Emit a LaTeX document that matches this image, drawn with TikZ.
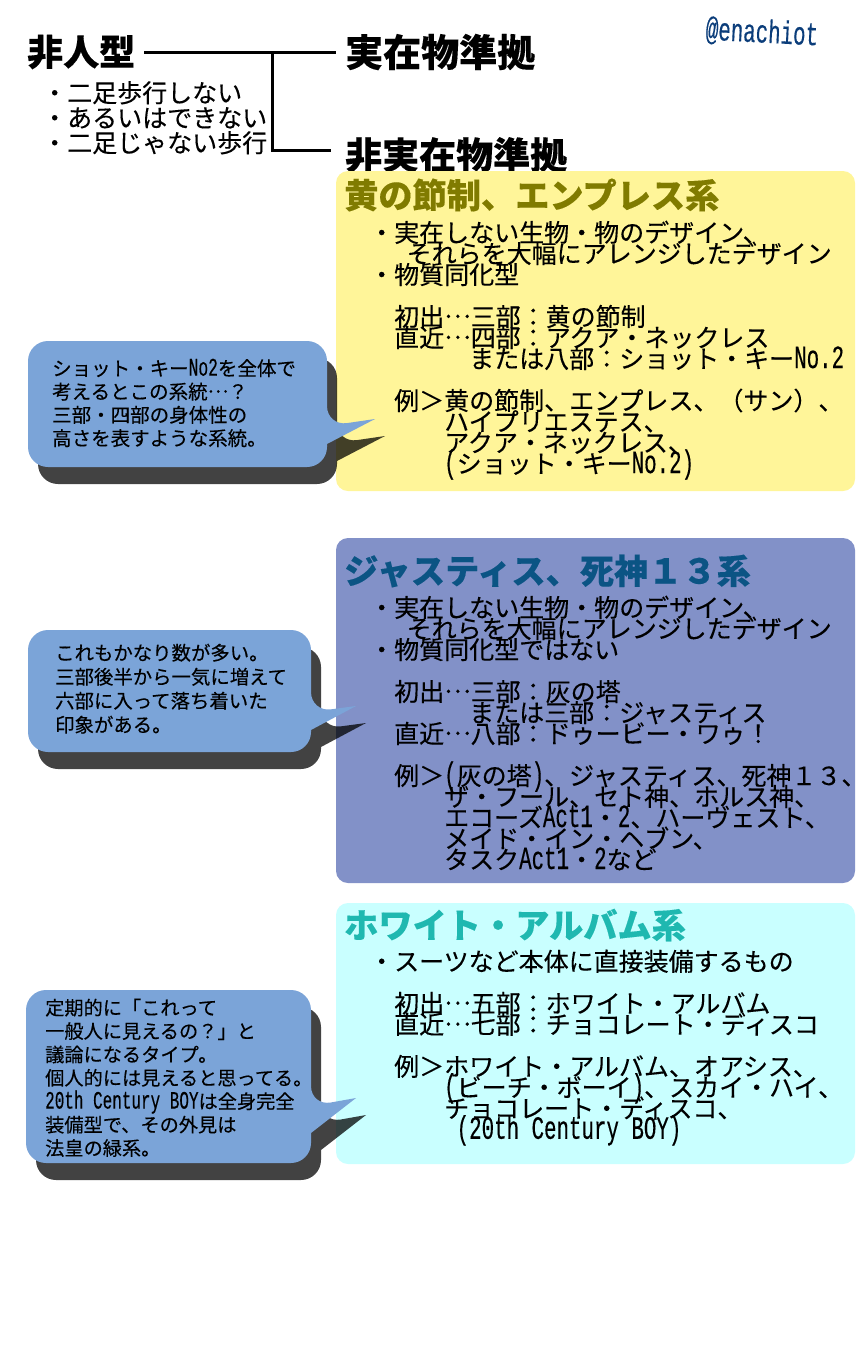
\documentclass[tikz,border=0pt]{standalone}
\usepackage{fontspec}
\setmainfont[FakeBold=0.25]{Noto Sans CJK JP}
\newfontfamily\hankakufont[Scale=1.3,FakeStretch=0.64,FakeBold=0.3]{Liberation Mono}
\newcommand{\hk}[1]{{\hankakufont #1}}
\newcommand{\hsp}{\hspace*{12.5pt}}
\newcommand{\ten}{\raisebox{.33em}{…}}
\newcommand{\bodyfont}{\fontsize{25pt}{21pt}\selectfont\lineskiplimit=-30pt}
\newcommand{\notefont}[2]{\fontsize{#1}{#2}\selectfont\lineskiplimit=-30pt}
\definecolor{panelyellow}{HTML}{FFF599}
\definecolor{panelblue}{HTML}{8291C8}
\definecolor{panelcyan}{HTML}{C9FFFF}
\definecolor{noteblue}{HTML}{7BA4D8}
\begin{document}
\begin{tikzpicture}[x=1pt,y=-1pt,inner sep=0pt]
\tikzstyle{head}=[anchor=west,font=\fontsize{37pt}{37pt}\selectfont\bfseries]
\tikzstyle{fixed}=[-,line width=3pt]
\tikzstyle{panel}=[rounded corners=12pt]
\tikzstyle{title}=[anchor=west,font=\fontsize{34.2pt}{34pt}\selectfont\bfseries]
\tikzstyle{body}=[anchor=north west,align=left,font=\bodyfont]
\tikzstyle{shadow}=[fill=black,opacity=.74,shift={(10,17)}]
\tikzstyle{note}=[fill=noteblue]
\useasboundingbox (0,0) rectangle (860,1350);

\node[head,inner xsep=9pt,font=\fontsize{36pt}{36pt}\selectfont\bfseries] (hijin) at (18,52) {非人型};
\node[head,inner xsep=9pt,font=\fontsize{38pt}{38pt}\selectfont\bfseries] (jitsu) at (336,52) {実在物準拠};
\node[head,inner xsep=14pt] (hijitsu) at (331,155) {非実在物準拠};
\node[anchor=north west,align=left,font=\fontsize{25pt}{25pt}\selectfont] (hijin_list) at (42,81) {・二足歩行しない\\・あるいはできない\\・二足じゃない歩行};
\node[anchor=center,rotate=-3,text={rgb,255:red,11;green,61;blue,122}] (sign) at (762,33) {\fontsize{25pt}{25pt}\selectfont\hk{@enachiot}};

\coordinate (branch) at (272,52);
\draw[fixed] (hijin) -- (jitsu);
\draw[fixed] (branch) |- ([yshift=5pt]hijitsu.west);

% panels
\fill[panel,panelyellow] (336,171) rectangle (855,491);
\fill[panel,panelblue] (336,538) rectangle (855,883);
\fill[panel,panelcyan] (336,903) rectangle (855,1164);

\node[title,text={rgb,255:red,128;green,123;blue,0}] (yellow_title) at (344,195) {黄の節制、エンプレス系};
\node[body] (yellow_body) at (369,220.5) {・実在しない生物・物のデザイン、\\
\hsp　それらを大幅にアレンジしたデザイン\\
・物質同化型\\
\\
　初出\ten 三部：黄の節制\\
　直近\ten 四部：アクア・ネックレス\\
　　　　または八部：ショット・キー\hk{No.2}\\
\\
　例＞黄の節制、エンプレス、（サン）、\\
　　　ハイプリエステス、\\
　　　アクア・ネックレス、\\
　　　\hk{(}ショット・キー\hk{No.2)}};

\node[title,text={rgb,255:red,11;green,84;blue,132}] (blue_title) at (344,571) {ジャスティス、死神１３系};
\node[body] (blue_body) at (369,595.5) {・実在しない生物・物のデザイン、\\
\hsp　それらを大幅にアレンジしたデザイン\\
・物質同化型ではない\\
\\
　初出\ten 三部：灰の塔\\
　　　　または三部：ジャスティス\\
　直近\ten 八部：ドゥービー・ワゥ！\\
\\
　例＞\hk{(}灰の塔\hk{)}、ジャスティス、死神１３、\hspace*{-10pt}\\
　　　ザ・フール、セト神、ホルス神、\\
　　　エコーズ\hk{Act1}・\hk{2}、ハーヴェスト、\\
　　　メイド・イン・ヘブン、\\
　　　タスク\hk{Act1}・\hk{2}など};

\node[title,text={rgb,255:red,31;green,184;blue,176}] (cyan_title) at (344,925) {ホワイト・アルバム系};
\node[body] (cyan_body) at (369,949.5) {・スーツなど本体に直接装備するもの\\
\\
　初出\ten 五部：ホワイト・アルバム\\
　直近\ten 七部：チョコレート・ディスコ\\
\\
　例＞ホワイト・アルバム、オアシス、\\
　　　\hk{(}ビーチ・ボーイ\hk{)}、スカイ・ハイ、\\
　　　チョコレート・ディスコ、\\
　　　\hsp\hk{(20th Century BOY)}};

% balloons
\fill[shadow,rounded corners=20pt] (150,341) -- (327,341) -- (327,426) [sharp corners] -- (375,419) -- (327,444) [rounded corners=20pt] -- (327,467) -- (28,467) -- (28,341) -- cycle;
\fill[note,rounded corners=20pt] (150,341) -- (327,341) -- (327,426) [sharp corners] -- (375,419) -- (327,444) [rounded corners=20pt] -- (327,467) -- (28,467) -- (28,341) -- cycle;
\node[anchor=north west,align=left,font=\notefont{19.5pt}{23.3pt}] (note_yellow) at (52,358.5) {ショット・キー\hk{No2}を全体で\\考えるとこの系統\ten ？\\三部・四部の身体性の\\高さを表すような系統。};

\fill[shadow,rounded corners=20pt] (150,630) -- (311,630) -- (311,712) [sharp corners] -- (356,706) -- (311,730) [rounded corners=20pt] -- (311,752) -- (28,752) -- (28,630) -- cycle;
\fill[note,rounded corners=20pt] (150,630) -- (311,630) -- (311,712) [sharp corners] -- (356,706) -- (311,730) [rounded corners=20pt] -- (311,752) -- (28,752) -- (28,630) -- cycle;
\node[anchor=north west,align=left,font=\notefont{19.4pt}{24pt}] (note_blue) at (55,643.5) {これもかなり数が多い。\\三部後半から一気に増えて\\六部に入って落ち着いた\\印象がある。};

\fill[shadow,rounded corners=20pt] (150,990) -- (311,990) -- (311,1106) [sharp corners] -- (356,1098) -- (311,1133) [rounded corners=20pt] -- (311,1163) -- (26,1163) -- (26,990) -- cycle;
\fill[note,rounded corners=20pt] (150,990) -- (311,990) -- (311,1106) [sharp corners] -- (356,1098) -- (311,1133) [rounded corners=20pt] -- (311,1163) -- (26,1163) -- (26,990) -- cycle;
\node[anchor=north west,align=left,font=\notefont{19.2pt}{23.4pt}] (note_cyan) at (45,998.5) {定期的に「これって\\一般人に見えるの？」と\\議論になるタイプ。\\個人的には見えると思ってる。\\\hk{20th Century BOY}は全身完全\\装備型で、その外見は\\法皇の緑系。};
\end{tikzpicture}
\end{document}
